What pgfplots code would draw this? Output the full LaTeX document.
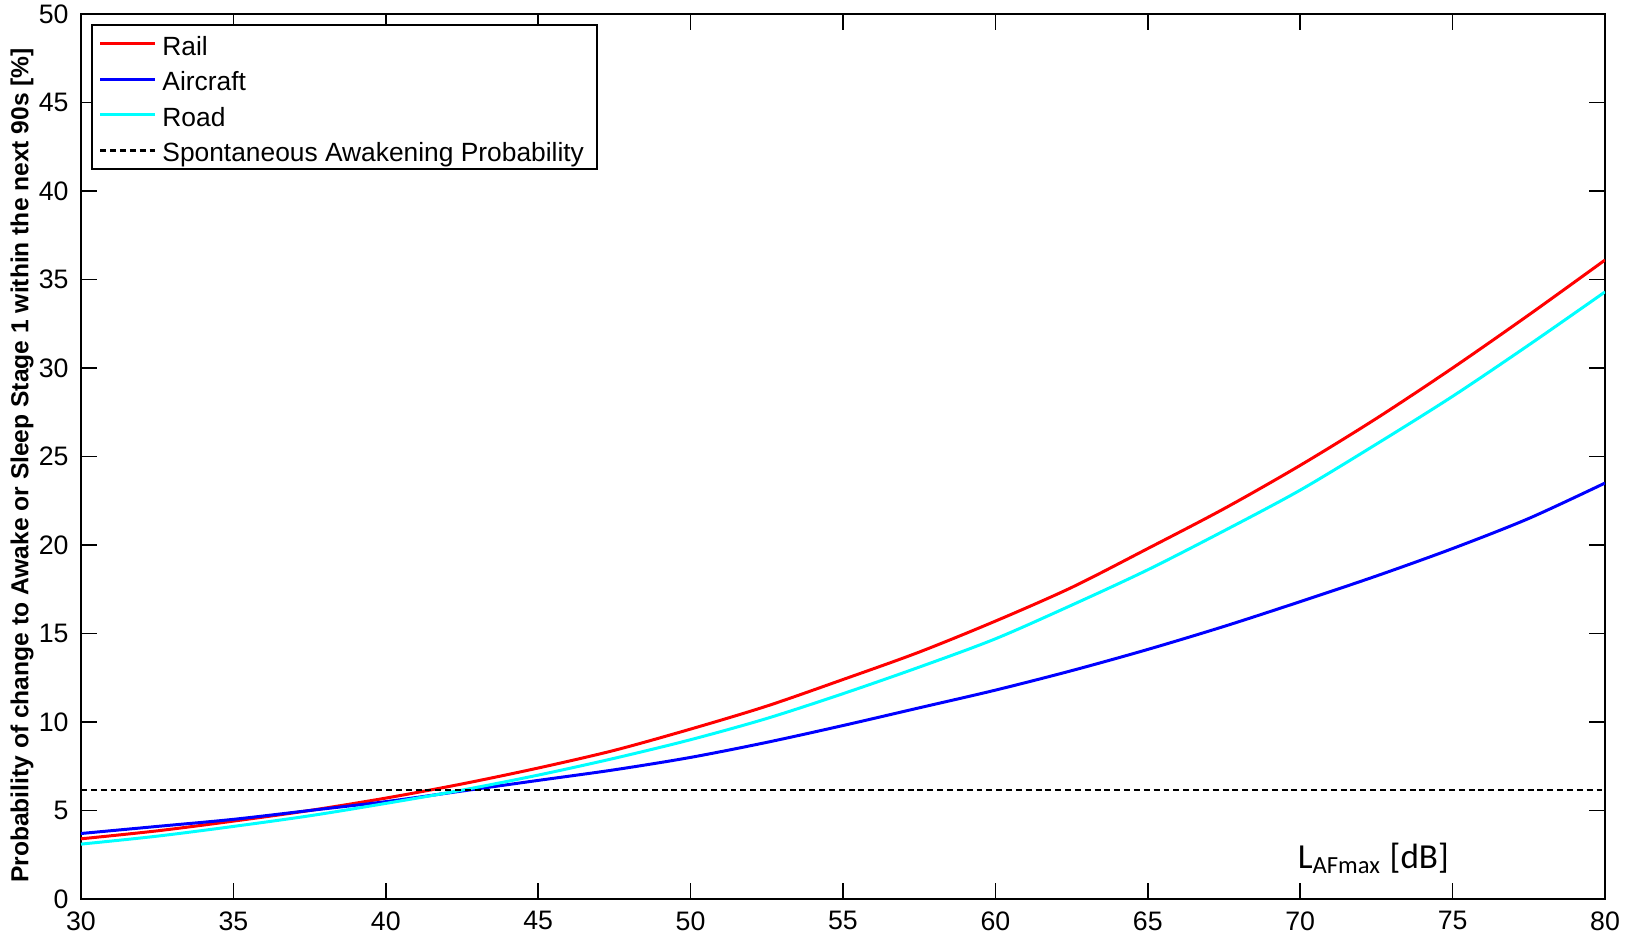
\documentclass[border=0pt]{standalone}
\usepackage{fontspec}
\setmainfont{Liberation Sans}
\newfontfamily\calfont{Carlito}
\usepackage{pgfplots}
\pgfplotsset{compat=1.18}
\definecolor{mred}{rgb}{1,0,0}
\definecolor{mblue}{rgb}{0,0,1}
\definecolor{mcyan}{rgb}{0,1,1}

\begin{document}
\begin{tikzpicture}
\begin{axis}[
    at={(0,0)}, anchor=south west,
    scale only axis,
    width=15.24cm, height=8.85cm,
    xmin=30, xmax=80, ymin=0, ymax=50,
    xtick={30,35,...,80}, ytick={0,5,...,50},
    tick align=inside,
    major tick length=0.16cm,
    axis line style={line width=0.5pt},
    every tick/.style={black, line width=0.5pt},
    /pgf/number format/assume math mode=true,
    tick label style={font=\fontsize{7.6}{9}\selectfont},
    ylabel={\textbf{Probability of change to Awake or Sleep Stage 1 within the next 90s [\%]}},
    ylabel style={font=\fontsize{7}{8}\selectfont, at={(axis description cs:-0.0387,0.49)}, anchor=center},
    legend cell align=left,
    legend style={at={(rel axis cs:0.0065,0.9887)}, anchor=north west,
        font=\fontsize{7.5}{9}\selectfont, draw=black, line width=0.5pt,
        row sep=0.4pt, inner xsep=2pt, inner ysep=0.5pt,
        nodes={inner sep=1.6pt, text height=6.5pt, text depth=0pt}},
    legend image code/.code={\draw[#1] (0cm,0cm) -- (0.55cm,0cm);},
]
\addplot[mred, line width=0.85pt, smooth] coordinates {
(30,3.4) (32.5,3.85) (35,4.4) (37.5,5.0) (40,5.7) (42.5,6.5) (45,7.4) (47.5,8.4)
(50,9.6) (52.5,10.9) (55,12.4) (57.5,13.95) (60,15.7) (62.5,17.6) (65,19.8)
(67.5,22.05) (70,24.5) (72.5,27.15) (75,30.0) (77.5,33.0) (80,36.1)};
\addlegendentry{Rail}
\addplot[mblue, line width=0.85pt, smooth] coordinates {
(30,3.7) (32.5,4.1) (35,4.5) (37.5,5.0) (40,5.5) (42.5,6.1) (45,6.7) (47.5,7.3)
(50,8.0) (52.5,8.85) (55,9.8) (57.5,10.8) (60,11.8) (62.5,12.9) (65,14.1)
(67.5,15.4) (70,16.8) (72.5,18.25) (75,19.8) (77.5,21.5) (80,23.5)};
\addlegendentry{Aircraft}
\addplot[mcyan, line width=0.85pt, smooth] coordinates {
(30,3.1) (32.5,3.55) (35,4.1) (37.5,4.7) (40,5.4) (42.5,6.15) (45,7.0) (47.5,7.95)
(50,9.0) (52.5,10.2) (55,11.6) (57.5,13.1) (60,14.7) (62.5,16.6) (65,18.6)
(67.5,20.8) (70,23.1) (72.5,25.7) (75,28.4) (77.5,31.3) (80,34.3)};
\addlegendentry{Road}
\addplot[black, line width=0.75pt, dash pattern=on 1.7pt off 1.1pt] coordinates {(30,6.15) (80,6.15)};
\addlegendentry{Spontaneous Awakening Probability}
\node[anchor=base west, font=\calfont\fontsize{10}{12}\selectfont, inner sep=0pt]
    at (axis cs:69.9,1.75) {L\textsubscript{AFmax} [dB]};
\end{axis}
\pgfresetboundingbox
\path (-0.81cm,-0.34cm) rectangle (15.47cm,8.99cm);
\end{tikzpicture}
\end{document}
